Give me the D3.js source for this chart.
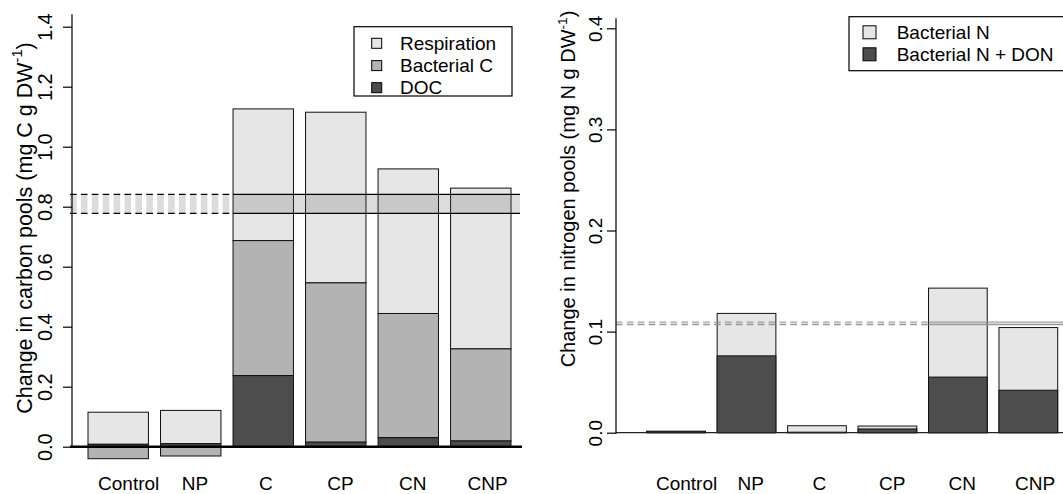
<!DOCTYPE html>
<html><head><meta charset="utf-8">
<script src="https://cdn.jsdelivr.net/npm/d3@7"></script>
<style>
body{margin:0;background:#fff}
svg{display:block}
text{font-family:"Liberation Sans",Arial,Helvetica,sans-serif;fill:#000}
</style>
</head><body>
<svg id="chart" width="1063" height="494"></svg>
<script>
// ---------- data ----------
const categories = ["Control", "NP", "C", "CP", "CN", "CNP"];
// carbon pools (mg C g DW-1)
const docC        = [0.008, 0.010, 0.237, 0.015, 0.030, 0.019];
const bacterialC  = [-0.040, -0.031, 0.450, 0.531, 0.414, 0.307];
const respiration = [0.107, 0.111, 0.439, 0.569, 0.482, 0.536];
const carbonTicks = [0, 0.2, 0.4, 0.6, 0.8, 1.0, 1.2, 1.4];
const carbonAddedRange = [0.778, 0.841];
const carbonLegend = ["Respiration", "Bacterial C", "DOC"];
// nitrogen pools (mg N g DW-1)
const bacterialN    = [0.001, 0.118, 0.0069, 0.0066, 0.143, 0.104];
const bacterialNDON = [0.0015, 0.076, 0.0005, 0.0037, 0.055, 0.042];
const nitrogenTicks = [0, 0.1, 0.2, 0.3, 0.4];
const nitrogenAddedRange = [0.1069, 0.1095];
const nitrogenLegend = ["Bacterial N", "Bacterial N + DON"];

// ---------- styles / layout ----------
const LIGHT = "#e6e6e6", MID = "#b3b3b3", DARK = "#4d4d4d";
const BAND_FILL = "rgba(80,80,80,0.2)";
const DASH = "6.6,4.3";
const labelNudge = [10.5, 4.2, 2.5, 4.7, 4.4, 6.8];

const svg = d3.select("#chart");
const fmt = d3.format(".1f");

function drawAxis(g, y, ticks, axisX, top, labelX, fontSize) {
  g.append("line").attr("x1", axisX).attr("x2", axisX)
    .attr("y1", top).attr("y2", y(0) + 1).attr("stroke", "#000").attr("stroke-width", 1.2);
  const ax = d3.axisLeft(y).tickValues(ticks).tickSize(9).tickSizeOuter(0).tickFormat(fmt);
  const ag = g.append("g").attr("transform", `translate(${axisX},0)`).call(ax)
    .attr("font-size", null).attr("font-family", null);
  ag.select(".domain").remove();
  ag.selectAll(".tick line").attr("stroke", "#000").attr("stroke-width", 1.2);
  ag.selectAll(".tick text")
    .attr("x", 0).attr("y", 0).attr("dy", 0)
    .attr("transform", `translate(${labelX - axisX},0) rotate(-90)`)
    .attr("text-anchor", "middle")
    .style("font-size", fontSize + "px").attr("fill", "#000");
}

function drawTitle(g, x, yc, main, fontSize) {
  const t = g.append("text").attr("transform", `translate(${x},${yc}) rotate(-90)`)
    .attr("text-anchor", "middle").style("font-size", fontSize + "px");
  t.append("tspan").text(main);
  t.append("tspan").attr("dy", -fontSize * 0.42).style("font-size", (fontSize * 0.68) + "px").text("-1");
  t.append("tspan").attr("dy", fontSize * 0.42).text(")");
}

function drawBand(g, y, range, x0, xs, x1, lineColor) {
  const yt = y(range[1]), yb = y(range[0]);
  g.append("line").attr("x1", x0).attr("x2", xs).attr("y1", (yt + yb) / 2).attr("y2", (yt + yb) / 2)
    .attr("stroke", BAND_FILL).attr("stroke-width", yb - yt).attr("stroke-dasharray", DASH);
  [yt, yb].forEach(yy => g.append("line").attr("x1", x0).attr("x2", xs).attr("y1", yy).attr("y2", yy)
    .attr("stroke", lineColor).attr("stroke-width", 1.2).attr("stroke-dasharray", DASH));
  g.append("rect").attr("x", xs).attr("y", yt).attr("width", x1 - xs).attr("height", yb - yt)
    .attr("fill", BAND_FILL);
  [yt, yb].forEach(yy => g.append("line").attr("x1", xs).attr("x2", x1).attr("y1", yy).attr("y2", yy)
    .attr("stroke", lineColor).attr("stroke-width", 1.2));
}

function drawLegend(g, x, y, w, h, items, colors, sq, sqX, textX, rowY) {
  g.append("rect").attr("x", x).attr("y", y).attr("width", w).attr("height", h)
    .attr("fill", "#fff").attr("stroke", "#000").attr("stroke-width", 1.2);
  items.forEach((d, i) => {
    g.append("rect").attr("x", sqX).attr("y", rowY[i] - sq / 2).attr("width", sq).attr("height", sq)
      .attr("fill", colors[i]).attr("stroke", "#000").attr("stroke-width", 1);
    g.append("text").attr("x", textX).attr("y", rowY[i]).attr("dy", "0.35em")
      .style("font-size", "19px").text(d);
  });
}

// ---------- left panel: carbon ----------
{
  const g = svg.append("g");
  const x = d3.scaleBand().domain(categories).range([88, 511]).paddingInner(1 / 6).paddingOuter(0);
  const y = d3.scaleLinear().domain([0, 1.4]).range([446.7, 26.7]);
  const rows = categories.map((c, i) => {
    const d0 = 0, d1 = docC[i];
    let b0, b1;
    if (bacterialC[i] >= 0) { b0 = d1; b1 = d1 + bacterialC[i]; } else { b0 = bacterialC[i]; b1 = 0; }
    const top = d1 + Math.max(0, bacterialC[i]);
    return { c, segs: [
      { lo: top, hi: top + respiration[i], fill: LIGHT },
      { lo: b0, hi: b1, fill: MID },
      { lo: d0, hi: d1, fill: DARK }
    ] };
  });
  rows.forEach(r => r.segs.forEach(s => {
    g.append("rect").attr("x", x(r.c)).attr("width", x.bandwidth())
      .attr("y", y(Math.max(s.lo, s.hi))).attr("height", Math.abs(y(s.lo) - y(s.hi)))
      .attr("fill", s.fill).attr("stroke", "#111").attr("stroke-width", 1);
  }));
  drawBand(g, y, carbonAddedRange, 70, x("C"), 520, "#000");
  g.append("line").attr("x1", 70).attr("x2", 522).attr("y1", y(0)).attr("y2", y(0))
    .attr("stroke", "#000").attr("stroke-width", 2.6);
  drawAxis(g, y, carbonTicks, 72, 14.3, 51.7, 20);
  drawTitle(g, 31.5, 228, "Change in carbon pools (mg C g DW", 21.5);
  categories.forEach((c, i) => g.append("text").attr("x", x(c) + x.bandwidth() / 2 + labelNudge[i])
    .attr("y", 490).attr("text-anchor", "middle").style("font-size", "19px").text(c));
  drawLegend(g, 354, 26.7, 158, 69.3, carbonLegend, [LIGHT, MID, DARK], 10, 371.7, 400, [43.3, 65.6, 87.7]);
}

// ---------- right panel: nitrogen ----------
{
  const g = svg.append("g");
  const x = d3.scaleBand().domain(categories).range([646.7, 1057.7]).paddingInner(1 / 6).paddingOuter(0);
  const y = d3.scaleLinear().domain([0, 0.4]).range([432.7, 28.3]);
  categories.forEach((c, i) => {
    g.append("rect").attr("x", x(c)).attr("width", x.bandwidth())
      .attr("y", y(bacterialN[i])).attr("height", y(0) - y(bacterialN[i]))
      .attr("fill", LIGHT).attr("stroke", "#111").attr("stroke-width", 1);
    g.append("rect").attr("x", x(c)).attr("width", x.bandwidth())
      .attr("y", y(bacterialNDON[i])).attr("height", y(0) - y(bacterialNDON[i]))
      .attr("fill", DARK).attr("stroke", "#111").attr("stroke-width", 1);
  });
  drawBand(g, y, nitrogenAddedRange, 616, x("CN"), 1063, "#9a9a9a");
  g.append("line").attr("x1", 616).attr("x2", 1063).attr("y1", y(0)).attr("y2", y(0))
    .attr("stroke", "#222").attr("stroke-width", 1.2);
  drawAxis(g, y, nitrogenTicks, 616, 18.3, 601.7, 19);
  drawTitle(g, 575, 189, "Change in nitrogen pools (mg N g DW", 20);
  categories.forEach((c, i) => g.append("text").attr("x", x(c) + x.bandwidth() / 2 + labelNudge[i])
    .attr("y", 490).attr("text-anchor", "middle").style("font-size", "19px").text(c));
  drawLegend(g, 849, 16.7, 230, 54, nitrogenLegend, [LIGHT, DARK], 13, 863, 896.7, [32.3, 54.3]);
}
</script>
</body></html>
